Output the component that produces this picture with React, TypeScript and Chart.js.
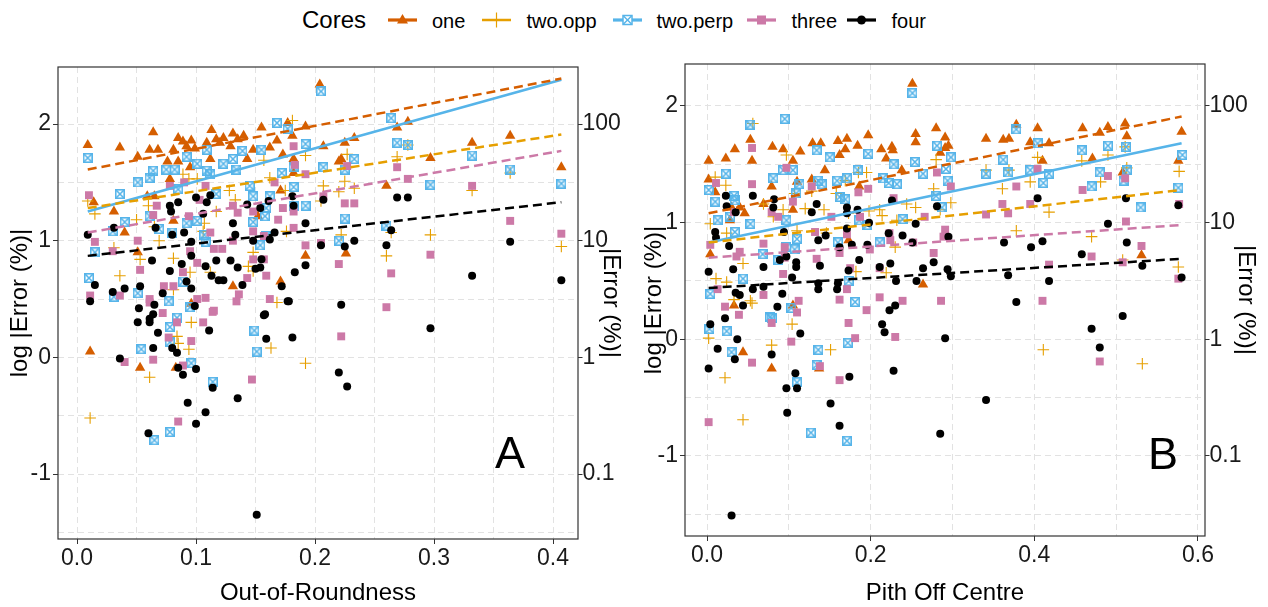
import React, { useEffect, useRef } from "react";
import { Chart, registerables } from "chart.js";
Chart.register(...registerables);

const FONT = '"Liberation Sans", Arial, Helvetica, sans-serif';
const SERIES = ["one", "two.opp", "two.perp", "three", "four"];
const COLORS = ["#D55E00", "#E69F00", "#56B4E9", "#CC79A7", "#000000"];

// ---------- Panel A: Out-of-Roundness ----------
const aOne = [[0.009,1.82],[0.036,1.80],[0.064,1.93],[0.051,1.72],[0.061,1.78],[0.068,1.78],[0.076,1.68],[0.081,1.78],[0.085,1.88],[0.089,1.85],[0.092,1.81],[0.096,1.86],[0.099,1.79],[0.085,1.68],[0.109,1.84],[0.113,1.95],[0.117,1.87],[0.120,1.84],[0.123,1.88],[0.129,1.81],[0.131,1.92],[0.135,1.87],[0.140,1.90],[0.143,1.70],[0.148,1.78],[0.155,1.97],[0.162,1.80],[0.168,1.86],[0.173,1.74],[0.177,2.01],[0.181,1.90],[0.182,1.70],[0.192,1.98],[0.204,2.34],[0.112,1.70],[0.095,1.63],[0.078,1.53],[0.059,1.38],[0.065,1.38],[0.014,1.33],[0.031,1.25],[0.040,1.07],[0.051,0.90],[0.131,0.61],[0.171,0.65],[0.192,0.87],[0.081,1.17],[0.152,1.21],[0.171,1.43],[0.182,1.58],[0.269,1.97],[0.278,2.02],[0.233,1.88],[0.225,1.84],[0.207,1.81],[0.222,1.70],[0.220,1.68],[0.260,1.47],[0.297,1.71],[0.332,1.84],[0.364,1.90],[0.407,1.63],[0.226,0.89],[0.011,0.05],[0.053,-0.09],[0.083,-0.09],[0.096,0.46]];
const aTwoOpp = [[0.009,1.34],[0.015,1.23],[0.031,0.94],[0.036,0.70],[0.050,1.18],[0.053,0.84],[0.060,1.30],[0.065,1.12],[0.069,1.00],[0.081,0.85],[0.089,1.57],[0.094,1.53],[0.101,1.53],[0.106,1.08],[0.107,1.15],[0.112,0.73],[0.117,1.25],[0.128,1.43],[0.133,1.35],[0.144,0.78],[0.148,0.90],[0.157,1.69],[0.162,1.54],[0.168,0.47],[0.175,1.43],[0.176,1.08],[0.181,2.03],[0.192,1.73],[0.081,0.58],[0.095,0.73],[0.148,0.74],[0.227,1.74],[0.269,1.72],[0.278,1.82],[0.207,1.47],[0.225,1.51],[0.220,1.42],[0.233,1.45],[0.205,1.34],[0.222,1.05],[0.264,1.07],[0.260,0.87],[0.297,1.05],[0.332,1.43],[0.364,1.58],[0.407,0.95],[0.096,0.30],[0.084,0.18],[0.085,0.12],[0.094,0.07],[0.061,-0.17],[0.011,-0.52],[0.163,0.08],[0.192,-0.05]];
const aTwoPerp = [[0.009,1.71],[0.036,1.40],[0.051,1.50],[0.061,1.54],[0.064,1.60],[0.075,1.61],[0.082,1.61],[0.085,1.44],[0.092,1.72],[0.101,1.66],[0.109,1.78],[0.109,1.60],[0.112,1.57],[0.117,1.40],[0.123,1.66],[0.131,1.70],[0.134,1.61],[0.139,1.77],[0.145,1.47],[0.148,1.38],[0.155,1.78],[0.159,1.28],[0.162,1.38],[0.168,2.01],[0.172,1.58],[0.177,1.96],[0.182,1.63],[0.182,1.46],[0.182,1.30],[0.192,1.83],[0.040,1.16],[0.030,1.08],[0.015,0.90],[0.061,1.21],[0.069,1.10],[0.080,1.07],[0.092,1.15],[0.101,1.17],[0.107,1.05],[0.108,0.99],[0.089,0.65],[0.010,0.68],[0.031,0.52],[0.051,0.55],[0.077,0.48],[0.095,0.43],[0.084,0.34],[0.154,0.96],[0.159,1.04],[0.148,1.16],[0.158,1.21],[0.205,2.28],[0.264,2.05],[0.269,1.84],[0.278,1.82],[0.233,1.70],[0.207,1.63],[0.225,1.61],[0.192,1.30],[0.225,1.19],[0.220,1.00],[0.260,1.13],[0.297,1.48],[0.332,1.73],[0.364,1.61],[0.407,1.49],[0.054,0.07],[0.078,0.26],[0.078,0.13],[0.096,-0.05],[0.114,-0.21],[0.149,0.23],[0.151,0.05],[0.078,-0.64],[0.065,-0.71]];
const aThree = [[0.010,1.39],[0.015,0.99],[0.030,0.91],[0.051,1.00],[0.053,0.75],[0.064,1.22],[0.067,1.30],[0.078,1.47],[0.090,1.50],[0.094,1.21],[0.095,0.91],[0.103,1.35],[0.108,1.47],[0.112,1.07],[0.115,0.93],[0.131,1.30],[0.135,1.24],[0.148,1.25],[0.148,1.08],[0.157,1.04],[0.166,1.50],[0.169,1.18],[0.173,1.28],[0.182,1.81],[0.183,1.65],[0.182,1.25],[0.182,1.11],[0.192,1.57],[0.192,0.96],[0.073,0.61],[0.081,0.61],[0.089,0.73],[0.101,0.81],[0.122,0.93],[0.131,1.00],[0.143,0.68],[0.148,0.84],[0.157,0.84],[0.159,0.70],[0.136,0.54],[0.108,0.51],[0.115,0.40],[0.061,0.50],[0.036,0.53],[0.011,0.53],[0.072,0.38],[0.162,0.50],[0.227,1.64],[0.225,1.32],[0.233,1.32],[0.207,1.38],[0.269,1.63],[0.278,1.53],[0.332,1.47],[0.364,1.17],[0.407,1.06],[0.205,0.98],[0.220,0.80],[0.264,0.72],[0.297,0.88],[0.260,0.43],[0.061,0.47],[0.084,0.30],[0.077,0.17],[0.096,0.14],[0.106,0.30],[0.114,0.39],[0.134,0.48],[0.064,-0.02],[0.040,-0.04],[0.089,-0.07],[0.147,-0.19],[0.085,-0.55],[0.101,0.50],[0.222,0.18]];
const aFour = [[0.009,1.05],[0.015,0.62],[0.011,0.48],[0.031,1.11],[0.030,0.56],[0.040,0.59],[0.053,0.61],[0.052,0.42],[0.063,0.83],[0.065,0.45],[0.066,1.11],[0.072,0.55],[0.078,0.74],[0.078,1.30],[0.079,1.25],[0.080,1.05],[0.085,1.33],[0.088,0.80],[0.090,1.07],[0.096,0.99],[0.096,0.87],[0.092,0.65],[0.096,0.59],[0.100,1.37],[0.106,1.23],[0.109,1.33],[0.112,1.39],[0.108,0.78],[0.113,0.70],[0.117,0.83],[0.119,0.66],[0.123,0.66],[0.129,0.83],[0.131,1.15],[0.133,1.05],[0.135,0.77],[0.139,0.62],[0.143,1.31],[0.148,1.00],[0.150,0.76],[0.154,1.28],[0.155,0.84],[0.161,1.34],[0.162,1.01],[0.158,0.37],[0.154,0.77],[0.172,0.61],[0.177,0.48],[0.181,1.38],[0.182,1.30],[0.166,1.07],[0.183,0.73],[0.192,1.15],[0.192,0.79],[0.205,0.96],[0.225,0.95],[0.233,1.00],[0.260,0.96],[0.264,1.09],[0.269,1.37],[0.278,1.37],[0.207,1.35],[0.332,0.70],[0.364,0.99],[0.407,0.66],[0.222,0.45],[0.297,0.25],[0.220,-0.13],[0.227,-0.25],[0.051,0.30],[0.061,0.33],[0.061,0.30],[0.064,0.37],[0.068,0.21],[0.064,0.08],[0.080,0.08],[0.084,0.04],[0.085,-0.09],[0.089,-0.15],[0.100,-0.10],[0.099,0.44],[0.111,0.23],[0.114,-0.26],[0.036,-0.01],[0.093,-0.39],[0.108,-0.47],[0.100,-0.57],[0.060,-0.65],[0.135,-0.35],[0.151,-1.35],[0.157,0.36],[0.159,0.16],[0.178,0.48],[0.181,0.17]];
const aFitX = [0.009, 0.407];
const aFitOne = [1.61, 2.39];
const aFitTwoOpp = [1.28, 1.91];
const aFitTwoPerp = [1.25, 2.38];
const aFitThree = [1.07, 1.77];
const aFitFour = [0.87, 1.33];
const aXMajor = [0, 0.1, 0.2, 0.3, 0.4];
const aXMinor = [0.05, 0.15, 0.25, 0.35];

// ---------- Panel B: Pith Off Centre ----------
const bOne = [[0.002,1.53],[0.002,1.37],[0.023,1.55],[0.034,1.63],[0.053,1.71],[0.055,1.53],[0.080,1.65],[0.079,1.31],[0.093,1.63],[0.105,1.53],[0.114,1.61],[0.129,1.68],[0.139,1.68],[0.144,1.45],[0.160,1.70],[0.171,1.72],[0.162,1.58],[0.169,1.63],[0.184,1.66],[0.197,1.75],[0.213,1.63],[0.226,1.65],[0.227,1.62],[0.219,1.55],[0.238,1.45],[0.251,2.19],[0.255,1.76],[0.255,1.69],[0.280,1.81],[0.291,1.73],[0.291,1.64],[0.010,1.26],[0.030,1.13],[0.028,1.02],[0.040,1.13],[0.046,1.08],[0.069,1.16],[0.105,1.11],[0.110,1.35],[0.128,1.37],[0.186,1.31],[0.004,0.73],[0.173,0.85],[0.264,0.47],[0.033,0.29],[0.295,1.66],[0.285,1.60],[0.341,1.72],[0.362,1.71],[0.369,1.72],[0.378,1.84],[0.404,1.81],[0.395,1.69],[0.410,1.53],[0.418,1.68],[0.459,1.81],[0.471,1.55],[0.480,1.77],[0.490,1.82],[0.511,1.85],[0.513,1.74],[0.508,1.43],[0.531,0.72],[0.580,1.78],[0.576,1.53],[0.044,-0.11],[0.079,-0.25],[0.137,-0.25],[0.105,0.29]];
const bTwoOpp = [[0.010,1.39],[0.023,1.32],[0.004,0.99],[0.024,0.91],[0.044,0.65],[0.011,0.52],[0.024,0.49],[0.053,0.33],[0.056,1.85],[0.097,1.58],[0.069,1.16],[0.081,1.05],[0.093,1.11],[0.107,1.25],[0.110,0.93],[0.120,1.12],[0.128,1.27],[0.143,1.11],[0.146,0.91],[0.158,1.25],[0.169,1.36],[0.173,1.08],[0.182,0.58],[0.185,1.43],[0.195,1.43],[0.198,1.10],[0.211,1.11],[0.214,1.06],[0.219,0.57],[0.230,0.79],[0.232,1.02],[0.244,1.16],[0.255,1.13],[0.277,1.29],[0.280,1.54],[0.033,0.34],[0.285,1.11],[0.298,1.17],[0.341,1.45],[0.361,1.29],[0.369,1.45],[0.378,0.93],[0.395,1.35],[0.404,1.56],[0.418,1.09],[0.458,1.53],[0.470,0.88],[0.481,1.35],[0.490,1.58],[0.511,1.65],[0.513,1.47],[0.508,0.68],[0.577,1.44],[0.576,0.62],[0.002,0.01],[0.022,-0.33],[0.044,-0.69],[0.055,0.31],[0.079,-0.05],[0.104,0.13],[0.151,-0.09],[0.411,-0.09],[0.532,-0.21]];
const bTwoPerp = [[0.002,1.28],[0.023,1.42],[0.010,1.18],[0.033,1.23],[0.034,1.19],[0.013,1.02],[0.028,1.05],[0.034,0.92],[0.053,0.99],[0.053,1.84],[0.095,1.89],[0.081,1.38],[0.093,1.45],[0.105,1.45],[0.113,1.33],[0.109,1.25],[0.134,1.62],[0.150,1.56],[0.136,1.36],[0.140,1.33],[0.159,1.36],[0.171,1.38],[0.162,1.22],[0.169,1.20],[0.184,1.45],[0.197,1.59],[0.215,1.38],[0.222,1.34],[0.228,1.50],[0.232,1.33],[0.254,1.52],[0.264,1.42],[0.251,2.11],[0.280,1.23],[0.292,1.46],[0.281,1.66],[0.097,1.02],[0.097,0.79],[0.087,0.68],[0.068,0.73],[0.110,0.86],[0.107,0.77],[0.044,0.52],[0.004,0.39],[0.160,0.83],[0.173,0.50],[0.186,1.02],[0.196,0.98],[0.211,0.83],[0.239,1.03],[0.103,0.27],[0.077,0.19],[0.298,1.56],[0.294,1.36],[0.287,1.13],[0.378,1.80],[0.362,1.54],[0.341,1.42],[0.368,1.43],[0.404,1.68],[0.395,1.45],[0.411,1.34],[0.418,1.42],[0.458,1.62],[0.470,1.31],[0.480,1.43],[0.490,1.66],[0.512,1.65],[0.513,1.45],[0.509,1.36],[0.530,1.13],[0.576,1.30],[0.581,1.58],[0.003,0.09],[0.024,0.07],[0.030,-0.11],[0.079,0.18],[0.110,-0.37],[0.136,-0.09],[0.134,-0.22],[0.127,-0.80],[0.171,-0.87],[0.172,-0.03],[0.181,0.32]];
const bThree = [[0.055,1.64],[0.011,1.34],[0.055,1.33],[0.097,1.47],[0.128,1.31],[0.197,1.29],[0.185,1.26],[0.281,1.43],[0.004,0.81],[0.033,1.09],[0.069,0.82],[0.079,1.09],[0.087,1.05],[0.105,1.18],[0.095,0.79],[0.095,0.70],[0.134,0.69],[0.132,0.92],[0.152,1.05],[0.162,0.74],[0.171,0.90],[0.175,0.61],[0.187,1.05],[0.199,0.77],[0.211,0.61],[0.223,0.91],[0.224,0.85],[0.228,1.21],[0.252,0.83],[0.266,1.05],[0.277,0.74],[0.291,0.94],[0.040,0.75],[0.036,0.71],[0.013,0.43],[0.069,0.38],[0.093,0.56],[0.112,0.33],[0.162,0.34],[0.195,0.25],[0.211,0.36],[0.239,0.33],[0.286,0.33],[0.171,0.43],[0.298,1.31],[0.289,0.88],[0.361,1.16],[0.368,1.08],[0.378,1.31],[0.395,1.16],[0.404,1.46],[0.341,1.07],[0.418,0.64],[0.410,0.33],[0.459,1.28],[0.470,0.71],[0.490,1.40],[0.512,1.01],[0.511,1.38],[0.508,0.66],[0.531,0.80],[0.577,1.16],[0.576,0.52],[0.022,0.28],[0.039,0.21],[0.055,-0.20],[0.079,0.14],[0.103,-0.02],[0.110,0.23],[0.138,-0.23],[0.162,-0.35],[0.173,0.14],[0.181,0.01],[0.230,0.02],[0.002,-0.71],[0.480,-0.19]];
const bFour = [[0.023,1.23],[0.024,1.14],[0.035,1.09],[0.056,1.23],[0.082,1.20],[0.081,1.13],[0.094,0.92],[0.128,1.09],[0.134,1.16],[0.136,0.85],[0.145,0.89],[0.171,1.13],[0.171,1.08],[0.171,0.95],[0.184,1.11],[0.198,1.00],[0.222,0.91],[0.226,1.19],[0.239,0.89],[0.255,0.99],[0.281,1.14],[0.295,0.88],[0.010,0.92],[0.011,0.87],[0.027,0.80],[0.002,0.58],[0.032,0.60],[0.069,0.62],[0.089,0.68],[0.097,0.71],[0.109,0.66],[0.109,0.62],[0.104,0.53],[0.136,0.48],[0.138,0.63],[0.160,0.48],[0.162,0.79],[0.177,0.81],[0.186,0.68],[0.196,0.81],[0.211,0.62],[0.224,0.65],[0.231,0.50],[0.251,0.83],[0.256,0.50],[0.264,0.61],[0.277,0.66],[0.035,0.40],[0.040,0.38],[0.044,0.29],[0.056,0.43],[0.069,0.45],[0.086,0.28],[0.092,0.39],[0.136,0.43],[0.159,0.43],[0.223,0.25],[0.230,0.29],[0.173,0.59],[0.022,0.18],[0.294,0.60],[0.298,0.54],[0.404,1.21],[0.363,0.83],[0.396,0.79],[0.410,0.84],[0.368,0.55],[0.418,0.50],[0.378,0.32],[0.458,0.73],[0.490,0.99],[0.512,1.21],[0.513,0.83],[0.532,0.63],[0.508,0.20],[0.576,1.15],[0.580,0.53],[0.004,0.13],[0.013,-0.08],[0.002,-0.25],[0.037,0.00],[0.034,-0.17],[0.079,-0.13],[0.114,0.05],[0.108,-0.29],[0.097,-0.42],[0.110,-0.42],[0.098,-0.63],[0.151,-0.55],[0.162,-0.74],[0.174,-0.32],[0.214,0.13],[0.217,0.06],[0.228,-0.27],[0.285,-0.81],[0.291,0.01],[0.030,-1.51],[0.341,-0.52],[0.470,0.09],[0.480,-0.07]];
const bFitX = [0.002, 0.58];
const bFitOne = [1.08, 1.91];
const bFitTwoOpp = [0.83, 1.28];
const bFitTwoPerp = [0.83, 1.68];
const bFitThree = [0.70, 0.98];
const bFitFour = [0.44, 0.69];
const bXMajor = [0, 0.2, 0.4, 0.6];
const bXMinor = [0.1, 0.3, 0.5];

// ---------- shared y axes ----------
const yMajor = [-1, 0, 1, 2];
const yMinor = [-1.5, -0.5, 0.5, 1.5];
const yRightLabels = ["0.1", "1", "10", "100"];

const GRID = "#e2e2e2";
const TICKC = "#333333";

function findMajor(list: number[], v: number) {
  return list.findIndex((t) => Math.abs(t - v) < 1e-9);
}

function makeBoxCross(color: string, size: number, lw: number) {
  const c = document.createElement("canvas");
  c.width = size;
  c.height = size;
  const g = c.getContext("2d")!;
  g.strokeStyle = color;
  g.lineWidth = lw;
  const p = lw / 2;
  g.strokeRect(p, p, size - lw, size - lw);
  g.beginPath();
  g.moveTo(p + 0.5, p + 0.5);
  g.lineTo(size - p - 0.5, size - p - 0.5);
  g.moveTo(size - p - 0.5, p + 0.5);
  g.lineTo(p + 0.5, size - p - 0.5);
  g.stroke();
  return c;
}

const framePlugin = {
  id: "frame",
  afterDraw(chart: any, _args: any, opts: any) {
    const { ctx, chartArea } = chart;
    const { left, top, right, bottom } = chartArea;
    ctx.save();
    ctx.strokeStyle = "#333333";
    ctx.lineWidth = 1.2;
    ctx.strokeRect(left, top, right - left, bottom - top);
    if (opts && opts.letter) {
      ctx.fillStyle = "#000";
      ctx.font = `45px ${FONT}`;
      ctx.textAlign = "center";
      ctx.textBaseline = "middle";
      ctx.fillText(opts.letter, left + opts.dx, top + opts.dy);
    }
    ctx.restore();
  },
};

function buildDatasets(series: number[][][], fitX: number[], fits: number[][]) {
  const boxCross = makeBoxCross(COLORS[2], 10, 1.6);
  const styles: any[] = [
    { pointStyle: "triangle", pointRadius: 6, borderWidth: 0 },
    { pointStyle: "cross", pointRadius: 5.8, borderWidth: 1.1 },
    { pointStyle: boxCross, pointRadius: 5, borderWidth: 0 },
    { pointStyle: "rect", pointRadius: 5.6, borderWidth: 0 },
    { pointStyle: "circle", pointRadius: 4, borderWidth: 0 },
  ];
  const pointSets = series.map((pts, i) => ({
    type: "scatter",
    label: SERIES[i],
    data: pts.map(([x, y]) => ({ x, y })),
    backgroundColor: COLORS[i],
    borderColor: COLORS[i],
    ...styles[i],
    pointHoverRadius: styles[i].pointRadius,
    order: 10 - i,
  }));
  const lineSets = fits.map((f, i) => ({
    type: "line",
    label: SERIES[i] + " fit",
    data: fitX.map((x, k) => ({ x, y: f[k] })),
    borderColor: COLORS[i],
    backgroundColor: COLORS[i],
    borderWidth: 2.5,
    borderDash: i === 2 ? [] : [9, 5],
    pointRadius: 0,
    pointHoverRadius: 0,
    fill: false,
    tension: 0,
    order: 0,
  }));
  return [...pointSets, ...lineSets];
}

type Spec = {
  series: number[][][];
  fitX: number[];
  fits: number[][];
  xMin: number;
  xMax: number;
  yMin: number;
  yMax: number;
  xMajor: number[];
  xMinor: number[];
  xTitle: string;
  letter: string;
  letterDx: number;
  letterDy: number;
  canvasLeft: number;
  canvasWidth: number;
  top: number;
  xHeight: number;
  yWidth: number;
  y2Width: number;
  leftTitlePad: number;
  rightTitlePad: number;
};

function Panel({ spec }: { spec: Spec }) {
  const ref = useRef<HTMLCanvasElement | null>(null);
  useEffect(() => {
    if (!ref.current) return;
    const tickFont = { family: FONT, size: 23, lineHeight: 1 };
    const titleFont = { family: FONT, size: 24, lineHeight: 1 };
    const yTicks = [...yMinor, ...yMajor].sort((a, b) => a - b);
    const xTicks = [...spec.xMajor, ...spec.xMinor].sort((a, b) => a - b);
    const chart = new Chart(ref.current, {
      type: "scatter",
      data: { datasets: buildDatasets(spec.series, spec.fitX, spec.fits) as any },
      options: {
        responsive: false,
        maintainAspectRatio: false,
        animation: false,
        devicePixelRatio: 1,
        events: [],
        layout: { padding: { top: spec.top, left: 0, right: 0, bottom: 0 } },
        plugins: {
          legend: { display: false },
          tooltip: { enabled: false },
          frame: { letter: spec.letter, dx: spec.letterDx, dy: spec.letterDy },
        } as any,
        scales: {
          x: {
            type: "linear",
            position: "bottom",
            min: spec.xMin,
            max: spec.xMax,
            afterBuildTicks: (s: any) => {
              s.ticks = xTicks.map((v) => ({ value: v }));
            },
            afterFit: (s: any) => {
              s.height = spec.xHeight;
            },
            ticks: {
              autoSkip: false,
              maxRotation: 0,
              minRotation: 0,
              padding: 3,
              color: "#1a1a1a",
              font: tickFont,
              callback: (v: any) => {
                const i = findMajor(spec.xMajor, Number(v));
                return i < 0 ? "" : spec.xMajor[i].toFixed(1);
              },
            },
            grid: {
              color: GRID,
              lineWidth: 1,
              drawTicks: true,
              tickLength: 5,
              tickWidth: 1,
              tickColor: (c: any) =>
                c.tick && findMajor(spec.xMajor, c.tick.value) >= 0 ? TICKC : "rgba(0,0,0,0)",
            },
            border: { display: false, dash: [6, 4] },
            title: {
              display: true,
              text: spec.xTitle,
              color: "#000",
              font: titleFont,
              padding: { top: 0, bottom: 2 },
            },
          },
          y: {
            type: "linear",
            position: "left",
            min: spec.yMin,
            max: spec.yMax,
            afterBuildTicks: (s: any) => {
              s.ticks = yTicks.map((v) => ({ value: v }));
            },
            afterFit: (s: any) => {
              s.width = spec.yWidth;
            },
            ticks: {
              autoSkip: false,
              padding: 2,
              color: "#1a1a1a",
              font: tickFont,
              callback: (v: any) => {
                const i = findMajor(yMajor, Number(v));
                return i < 0 ? "" : String(yMajor[i]);
              },
            },
            grid: {
              color: GRID,
              lineWidth: 1,
              drawTicks: true,
              tickLength: 5,
              tickWidth: 1,
              tickColor: (c: any) =>
                c.tick && findMajor(yMajor, c.tick.value) >= 0 ? TICKC : "rgba(0,0,0,0)",
            },
            border: { display: false, dash: [6, 4] },
            title: {
              display: true,
              text: "log |Error (%)|",
              color: "#000",
              font: titleFont,
              padding: { top: spec.leftTitlePad, bottom: 0 },
            },
          },
          y2: {
            type: "linear",
            position: "right",
            min: spec.yMin,
            max: spec.yMax,
            afterBuildTicks: (s: any) => {
              s.ticks = yMajor.map((v) => ({ value: v }));
            },
            afterFit: (s: any) => {
              s.width = spec.y2Width;
            },
            ticks: {
              autoSkip: false,
              padding: 0,
              color: "#1a1a1a",
              font: tickFont,
              callback: (v: any) => {
                const i = findMajor(yMajor, Number(v));
                return i < 0 ? "" : yRightLabels[i];
              },
            },
            grid: {
              drawOnChartArea: false,
              drawTicks: true,
              tickLength: 4.5,
              tickWidth: 1,
              tickColor: TICKC,
              color: GRID,
            },
            border: { display: false },
            title: {
              display: true,
              text: "|Error (%)|",
              color: "#000",
              font: titleFont,
              padding: { top: spec.rightTitlePad, bottom: 0 },
            },
          },
        } as any,
      },
      plugins: [framePlugin as any],
    });
    return () => chart.destroy();
  }, [spec]);
  return (
    <canvas
      ref={ref}
      width={spec.canvasWidth}
      height={607}
      style={{
        position: "absolute",
        left: spec.canvasLeft,
        top: 0,
        width: spec.canvasWidth,
        height: 607,
      }}
    />
  );
}

const specA: Spec = {
  series: [aOne, aTwoOpp, aTwoPerp, aThree, aFour],
  fitX: aFitX,
  fits: [aFitOne, aFitTwoOpp, aFitTwoPerp, aFitThree, aFitFour],
  xMin: -0.016,
  xMax: 0.421,
  yMin: -1.557,
  yMax: 2.489,
  xMajor: aXMajor,
  xMinor: aXMinor,
  xTitle: "Out-of-Roundness",
  letter: "A",
  letterDx: 452,
  letterDy: 389,
  canvasLeft: 0,
  canvasWidth: 639,
  top: 67,
  xHeight: 68,
  yWidth: 58,
  y2Width: 61,
  leftTitlePad: 8.6,
  rightTitlePad: 16,
};

const specB: Spec = {
  series: [bOne, bTwoOpp, bTwoPerp, bThree, bFour],
  fitX: bFitX,
  fits: [bFitOne, bFitTwoOpp, bFitTwoPerp, bFitThree, bFitFour],
  xMin: -0.0269,
  xMax: 0.6086,
  yMin: -1.686,
  yMax: 2.36,
  xMajor: bXMajor,
  xMinor: bXMinor,
  xTitle: "Pith Off Centre",
  letter: "B",
  letterDx: 478,
  letterDy: 393,
  canvasLeft: 639,
  canvasWidth: 629,
  top: 64,
  xHeight: 71,
  yWidth: 46,
  y2Width: 63,
  leftTitlePad: 3.5,
  rightTitlePad: 10,
};

function LegendKey({ idx, left }: { idx: number; left: number }) {
  const c = COLORS[idx];
  const cx = 14.5;
  const cy = 10;
  let marker: any = null;
  if (idx === 0) marker = <polygon points={`${cx},${cy - 6} ${cx + 5.5},${cy + 3.5} ${cx - 5.5},${cy + 3.5}`} fill={c} />;
  if (idx === 1) marker = <line x1={cx} y1={cy - 7.5} x2={cx} y2={cy + 7.5} stroke={c} strokeWidth={1.2} />;
  if (idx === 2)
    marker = (
      <g stroke={c} strokeWidth={1.5} fill="#fff">
        <rect x={cx - 4.5} y={cy - 4.5} width={9} height={9} />
        <line x1={cx - 4} y1={cy - 4} x2={cx + 4} y2={cy + 4} />
        <line x1={cx + 4} y1={cy - 4} x2={cx - 4} y2={cy + 4} />
      </g>
    );
  if (idx === 3) marker = <rect x={cx - 4.5} y={cy - 4.5} width={9} height={9} fill={c} />;
  if (idx === 4) marker = <circle cx={cx} cy={cy} r={4.5} fill={c} />;
  return (
    <svg width={29} height={20} style={{ position: "absolute", left, top: 10 }}>
      <line x1={0} y1={cy} x2={29} y2={cy} stroke={c} strokeWidth={idx === 1 ? 2.5 : 3.2} />
      {marker}
    </svg>
  );
}

function Legend() {
  const keyLeft = [388, 482, 613, 747, 847];
  const textLeft = [432, 526.5, 656.5, 791.5, 891.5];
  return (
    <div style={{ position: "absolute", left: 0, top: 0, width: 1268, height: 45 }}>
      <div
        style={{
          position: "absolute",
          left: 302,
          top: 5,
          fontSize: 24,
          lineHeight: "30px",
          color: "#000",
          whiteSpace: "nowrap",
        }}
      >
        Cores
      </div>
      {SERIES.map((s, i) => (
        <React.Fragment key={s}>
          <LegendKey idx={i} left={keyLeft[i]} />
          <div
            style={{
              position: "absolute",
              left: textLeft[i],
              top: 8.5,
              fontSize: 20,
              lineHeight: "24px",
              color: "#000",
              whiteSpace: "nowrap",
            }}
          >
            {s}
          </div>
        </React.Fragment>
      ))}
    </div>
  );
}

export default function App() {
  return (
    <div
      style={{
        position: "absolute",
        left: 0,
        top: 0,
        width: 1268,
        height: 607,
        background: "#ffffff",
        fontFamily: FONT,
        overflow: "hidden",
      }}
    >
      <Legend />
      <Panel spec={specA} />
      <Panel spec={specB} />
    </div>
  );
}
